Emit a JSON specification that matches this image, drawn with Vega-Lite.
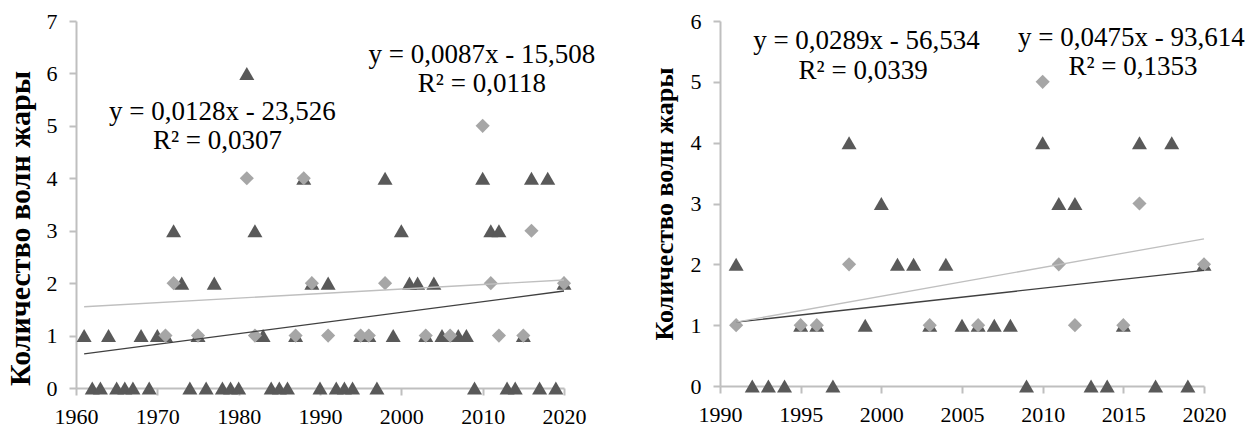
{
  "$schema": "https://vega.github.io/schema/vega-lite/v6.json",
  "background": "white",
  "padding": {"left": 5, "top": 10, "right": 0, "bottom": 0},
  "spacing": 55,
  "config": {
    "view": {"stroke": null},
    "font": "Liberation Serif",
    "axis": {
      "grid": false,
      "domainColor": "#bfbfbf",
      "domainWidth": 2,
      "tickColor": "#bfbfbf",
      "tickWidth": 2,
      "tickSize": 7,
      "labelFont": "Liberation Serif",
      "labelFontSize": 22,
      "labelColor": "#000000",
      "labelFlush": false,
      "labelOverlap": false,
      "titleFont": "Liberation Serif",
      "titleFontWeight": "bold",
      "titleColor": "#000000"
    }
  },
  "datasets": {
    "pts": [
      {"year":1961,"value":1,"series":"T"},{"year":1962,"value":0,"series":"T"},{"year":1963,"value":0,"series":"T"},{"year":1964,"value":1,"series":"T"},{"year":1965,"value":0,"series":"T"},{"year":1966,"value":0,"series":"T"},{"year":1967,"value":0,"series":"T"},{"year":1968,"value":1,"series":"T"},{"year":1969,"value":0,"series":"T"},{"year":1970,"value":1,"series":"T"},
      {"year":1971,"value":1,"series":"T"},{"year":1972,"value":3,"series":"T"},{"year":1973,"value":2,"series":"T"},{"year":1974,"value":0,"series":"T"},{"year":1975,"value":1,"series":"T"},{"year":1976,"value":0,"series":"T"},{"year":1977,"value":2,"series":"T"},{"year":1978,"value":0,"series":"T"},{"year":1979,"value":0,"series":"T"},{"year":1980,"value":0,"series":"T"},
      {"year":1981,"value":6,"series":"T"},{"year":1982,"value":3,"series":"T"},{"year":1983,"value":1,"series":"T"},{"year":1984,"value":0,"series":"T"},{"year":1985,"value":0,"series":"T"},{"year":1986,"value":0,"series":"T"},{"year":1987,"value":1,"series":"T"},{"year":1988,"value":4,"series":"T"},{"year":1989,"value":2,"series":"T"},{"year":1990,"value":0,"series":"T"},
      {"year":1991,"value":2,"series":"T"},{"year":1992,"value":0,"series":"T"},{"year":1993,"value":0,"series":"T"},{"year":1994,"value":0,"series":"T"},{"year":1995,"value":1,"series":"T"},{"year":1996,"value":1,"series":"T"},{"year":1997,"value":0,"series":"T"},{"year":1998,"value":4,"series":"T"},{"year":1999,"value":1,"series":"T"},{"year":2000,"value":3,"series":"T"},
      {"year":2001,"value":2,"series":"T"},{"year":2002,"value":2,"series":"T"},{"year":2003,"value":1,"series":"T"},{"year":2004,"value":2,"series":"T"},{"year":2005,"value":1,"series":"T"},{"year":2006,"value":1,"series":"T"},{"year":2007,"value":1,"series":"T"},{"year":2008,"value":1,"series":"T"},{"year":2009,"value":0,"series":"T"},{"year":2010,"value":4,"series":"T"},
      {"year":2011,"value":3,"series":"T"},{"year":2012,"value":3,"series":"T"},{"year":2013,"value":0,"series":"T"},{"year":2014,"value":0,"series":"T"},{"year":2015,"value":1,"series":"T"},{"year":2016,"value":4,"series":"T"},{"year":2017,"value":0,"series":"T"},{"year":2018,"value":4,"series":"T"},{"year":2019,"value":0,"series":"T"},{"year":2020,"value":2,"series":"T"},
      {"year":1971,"value":1,"series":"D"},{"year":1972,"value":2,"series":"D"},{"year":1975,"value":1,"series":"D"},{"year":1981,"value":4,"series":"D"},{"year":1982,"value":1,"series":"D"},{"year":1987,"value":1,"series":"D"},{"year":1988,"value":4,"series":"D"},{"year":1989,"value":2,"series":"D"},{"year":1991,"value":1,"series":"D"},{"year":1995,"value":1,"series":"D"},
      {"year":1996,"value":1,"series":"D"},{"year":1998,"value":2,"series":"D"},{"year":2003,"value":1,"series":"D"},{"year":2006,"value":1,"series":"D"},{"year":2010,"value":5,"series":"D"},{"year":2011,"value":2,"series":"D"},{"year":2012,"value":1,"series":"D"},{"year":2015,"value":1,"series":"D"},{"year":2016,"value":3,"series":"D"},{"year":2020,"value":2,"series":"D"}
    ],
    "trendL": [
      {"year":1961,"value":0.65,"series":"T"},{"year":2020,"value":1.85,"series":"T"},
      {"year":1961,"value":1.55,"series":"D"},{"year":2020,"value":2.06,"series":"D"}
    ],
    "trendR": [
      {"year":1991,"value":1.05,"series":"T"},{"year":2020,"value":1.9,"series":"T"},
      {"year":1991,"value":1.05,"series":"D"},{"year":2020,"value":2.42,"series":"D"}
    ],
    "labL": [
      {"year":1978.0,"value":5.27,"t":"y = 0,0128x - 23,526"},
      {"year":1977.4,"value":4.72,"t":"R² = 0,0307"},
      {"year":2009.9,"value":6.35,"t":"y = 0,0087x - 15,508"},
      {"year":2009.9,"value":5.80,"t":"R² = 0,0118"}
    ],
    "labR": [
      {"year":1999.08,"value":5.67,"t":"y = 0,0289x - 56,534"},
      {"year":1998.87,"value":5.17,"t":"R² = 0,0339"},
      {"year":2015.5,"value":5.72,"t":"y = 0,0475x - 93,614"},
      {"year":2015.6,"value":5.24,"t":"R² = 0,1353"}
    ]
  },
  "hconcat": [
    {
      "width": 488,
      "height": 367,
      "layer": [
        {
          "data": {"name": "pts"},
          "transform": [{"filter": "datum.series === 'T'"}],
          "mark": {"type": "point", "shape": "M-1,0.87L0,-0.87L1,0.87Z", "filled": true, "color": "#595959", "opacity": 1, "size": 225},
          "encoding": {
            "x": {"field": "year", "type": "quantitative", "scale": {"domain": [1960, 2020], "nice": false, "zero": false},
                  "axis": {"values": [1960,1970,1980,1990,2000,2010,2020], "format": "d", "title": null, "labelPadding": 11, "labelFont": "Liberation Serif", "labelFontSize": 22, "labelFlush": false, "labelOverlap": false}},
            "y": {"field": "value", "type": "quantitative", "scale": {"domain": [0, 7], "nice": false},
                  "axis": {"values": [0,1,2,3,4,5,6,7], "format": "d", "title": "Количество волн жары", "titleFont": "Liberation Serif, Times New Roman, serif", "titleFontWeight": "bold", "titleFontSize": 30, "labelFont": "Liberation Serif", "labelFontSize": 22, "labelPadding": 12, "titlePadding": 11, "titleY": 207}}
          }
        },
        {
          "data": {"name": "pts"},
          "transform": [{"filter": "datum.series === 'D'"}],
          "mark": {"type": "point", "shape": "diamond", "filled": true, "color": "#a6a6a6", "opacity": 1, "size": 200},
          "encoding": {
            "x": {"field": "year", "type": "quantitative", "scale": {"domain": [1960, 2020], "nice": false, "zero": false}},
            "y": {"field": "value", "type": "quantitative", "scale": {"domain": [0, 7], "nice": false}}
          }
        },
        {
          "data": {"name": "trendL"},
          "transform": [{"filter": "datum.series === 'T'"}],
          "mark": {"type": "line", "color": "#404040", "strokeWidth": 1.3},
          "encoding": {
            "x": {"field": "year", "type": "quantitative", "scale": {"domain": [1960, 2020], "nice": false, "zero": false}},
            "y": {"field": "value", "type": "quantitative", "scale": {"domain": [0, 7], "nice": false}}
          }
        },
        {
          "data": {"name": "trendL"},
          "transform": [{"filter": "datum.series === 'D'"}],
          "mark": {"type": "line", "color": "#bfbfbf", "strokeWidth": 1.3},
          "encoding": {
            "x": {"field": "year", "type": "quantitative", "scale": {"domain": [1960, 2020], "nice": false, "zero": false}},
            "y": {"field": "value", "type": "quantitative", "scale": {"domain": [0, 7], "nice": false}}
          }
        },
        {
          "data": {"name": "labL"},
          "mark": {"type": "text", "font": "Liberation Serif", "fontSize": 27, "color": "#000000", "align": "center", "baseline": "middle"},
          "encoding": {
            "x": {"field": "year", "type": "quantitative", "scale": {"domain": [1960, 2020], "nice": false, "zero": false}},
            "y": {"field": "value", "type": "quantitative", "scale": {"domain": [0, 7], "nice": false}},
            "text": {"field": "t"}
          }
        }
      ]
    },
    {
      "width": 484,
      "height": 365,
      "layer": [
        {
          "data": {"name": "pts"},
          "transform": [{"filter": "datum.series === 'T' && datum.year >= 1991"}],
          "mark": {"type": "point", "shape": "M-1,0.87L0,-0.87L1,0.87Z", "filled": true, "color": "#595959", "opacity": 1, "size": 225},
          "encoding": {
            "x": {"field": "year", "type": "quantitative", "scale": {"domain": [1990, 2020], "nice": false, "zero": false},
                  "axis": {"values": [1990,1995,2000,2005,2010,2015,2020], "format": "d", "title": null, "labelPadding": 11, "labelFont": "Liberation Serif", "labelFontSize": 22, "labelFlush": false, "labelOverlap": false}},
            "y": {"field": "value", "type": "quantitative", "scale": {"domain": [0, 6], "nice": false},
                  "axis": {"values": [0,1,2,3,4,5,6], "format": "d", "title": "Количество волн жары", "titleFont": "Liberation Serif, Times New Roman, serif", "titleFontWeight": "bold", "titleFontSize": 26, "labelFont": "Liberation Serif", "labelFontSize": 22, "labelPadding": 12, "titlePadding": 13}}
          }
        },
        {
          "data": {"name": "pts"},
          "transform": [{"filter": "datum.series === 'D' && datum.year >= 1991"}],
          "mark": {"type": "point", "shape": "diamond", "filled": true, "color": "#a6a6a6", "opacity": 1, "size": 200},
          "encoding": {
            "x": {"field": "year", "type": "quantitative", "scale": {"domain": [1990, 2020], "nice": false, "zero": false}},
            "y": {"field": "value", "type": "quantitative", "scale": {"domain": [0, 6], "nice": false}}
          }
        },
        {
          "data": {"name": "trendR"},
          "transform": [{"filter": "datum.series === 'T'"}],
          "mark": {"type": "line", "color": "#404040", "strokeWidth": 1.3},
          "encoding": {
            "x": {"field": "year", "type": "quantitative", "scale": {"domain": [1990, 2020], "nice": false, "zero": false}},
            "y": {"field": "value", "type": "quantitative", "scale": {"domain": [0, 6], "nice": false}}
          }
        },
        {
          "data": {"name": "trendR"},
          "transform": [{"filter": "datum.series === 'D'"}],
          "mark": {"type": "line", "color": "#bfbfbf", "strokeWidth": 1.3},
          "encoding": {
            "x": {"field": "year", "type": "quantitative", "scale": {"domain": [1990, 2020], "nice": false, "zero": false}},
            "y": {"field": "value", "type": "quantitative", "scale": {"domain": [0, 6], "nice": false}}
          }
        },
        {
          "data": {"name": "labR"},
          "mark": {"type": "text", "font": "Liberation Serif", "fontSize": 27, "color": "#000000", "align": "center", "baseline": "middle"},
          "encoding": {
            "x": {"field": "year", "type": "quantitative", "scale": {"domain": [1990, 2020], "nice": false, "zero": false}},
            "y": {"field": "value", "type": "quantitative", "scale": {"domain": [0, 6], "nice": false}},
            "text": {"field": "t"}
          }
        }
      ]
    }
  ]
}
